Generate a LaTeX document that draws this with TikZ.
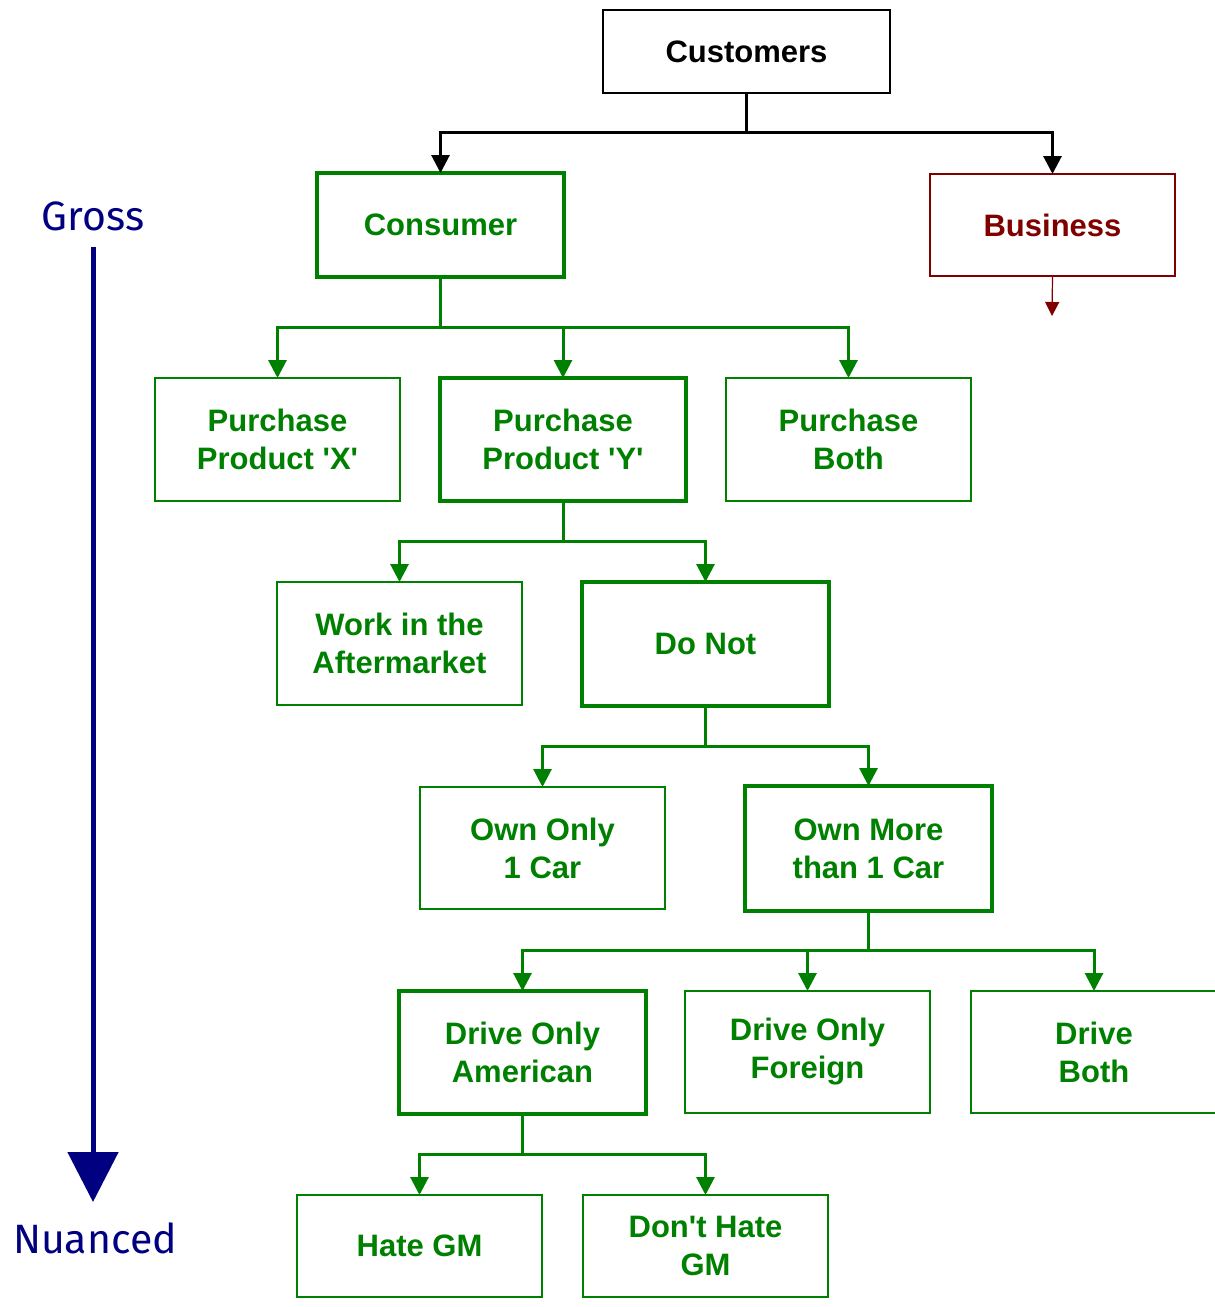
\documentclass[tikz,border=0pt]{standalone}
\usepackage{fontspec}
\setmainfont{Liberation Sans}
\newfontfamily\handfont{Fira Sans}
\usetikzlibrary{arrows.meta}
\definecolor{gr}{RGB}{0,128,0}
\definecolor{dred}{RGB}{128,0,0}
\definecolor{nav}{RGB}{0,0,128}
\newcommand{\sq}{\textquotesingle}
\tikzset{
  box/.style={rectangle, inner sep=0pt, outer sep=0pt, align=center,
    font=\fontsize{31}{38}\selectfont\bfseries, text=gr},
  thinbox/.style={box, draw=gr, line width=1.2pt},
  thickbox/.style={box, draw=gr, line width=4pt},
  gline/.style={draw=gr, line width=3pt, -{Triangle[width=18pt,length=18pt]}},
  kline/.style={draw=black, line width=3pt, -{Triangle[width=18pt,length=18pt]}},
  hand/.style={font=\handfont\fontsize{41}{44}\selectfont, text=nav},
}
\begin{document}
\begin{tikzpicture}[x=1pt,y=-1pt]
\useasboundingbox (0,0) rectangle (1215,1307);
\node[box, draw=black, line width=2.2pt, text=black, minimum width=287pt, minimum height=83pt] (cust) at (746.5,51.5) {Customers};
\node[thickbox, minimum width=247pt, minimum height=104pt] (cons) at (440.5,225) {Consumer};
\node[box, draw=dred, line width=1.2pt, text=dred, minimum width=245pt, minimum height=102pt] (bus) at (1052.5,225) {Business};
\coordinate (busend) at (1052,316);
\node[thinbox, minimum width=245pt, minimum height=123pt] (px) at (277.5,439.5) {Purchase\\Product \sq X\sq};
\node[thickbox, minimum width=246pt, minimum height=123pt] (py) at (563,439.5) {Purchase\\Product \sq Y\sq};
\node[thinbox, minimum width=245pt, minimum height=123pt] (pb) at (848.5,439.5) {Purchase\\Both};
\node[thinbox, minimum width=245pt, minimum height=123pt] (work) at (399.5,643.5) {Work in the\\Aftermarket};
\node[thickbox, minimum width=247pt, minimum height=124pt] (dn) at (705.5,644) {Do Not};
\node[thinbox, minimum width=245pt, minimum height=122pt] (own1) at (542.5,848) {Own Only\\1 Car};
\node[thickbox, minimum width=247pt, minimum height=125pt] (ownm) at (868.5,848.5) {Own More\\than 1 Car};
\node[thickbox, minimum width=247pt, minimum height=123pt] (amer) at (522.5,1052.5) {Drive Only\\American};
\node[thinbox, minimum width=245pt, minimum height=122pt] (forg) at (807.5,1052) {Drive Only\\Foreign};
\node[thinbox, minimum width=246pt, minimum height=122pt] (both) at (1094,1052) {Drive\\Both};
\node[thinbox, minimum width=245pt, minimum height=102pt] (hate) at (419.5,1246) {Hate GM};
\node[thinbox, minimum width=245pt, minimum height=102pt] (dhate) at (705.5,1246) {Don\sq t Hate\\GM};
% connectors
\draw[kline] (cust.south) -- ++(0,39) -| (cons.north);
\draw[kline] (cust.south) -- ++(0,39) -| (bus.north);
\draw[draw=dred, line width=1.2pt, -{Triangle[width=14pt,length=14pt]}] (bus.south) -- (busend);
\draw[gline] (cons.south) -- ++(0,50) -| (px.north);
\draw[gline] (cons.south) -- ++(0,50) -| (py.north);
\draw[gline] (cons.south) -- ++(0,50) -| (pb.north);
\draw[gline] (py.south) -- ++(0,40) -| (work.north);
\draw[gline] (py.south) -- ++(0,40) -| (dn.north);
\draw[gline] (dn.south) -- ++(0,40) -| (own1.north);
\draw[gline] (dn.south) -- ++(0,40) -| (ownm.north);
\draw[gline] (ownm.south) -- ++(0,39) -| (amer.north);
\draw[gline] (ownm.south) -- ++(0,39) -| (forg.north);
\draw[gline] (ownm.south) -- ++(0,39) -| (both.north);
\draw[gline] (amer.south) -- ++(0,40) -| (hate.north);
\draw[gline] (amer.south) -- ++(0,40) -| (dhate.north);
% gross / nuanced scale
\node[hand] (gross) at (93,216) {Gross};
\node[hand] (nuan) at (95,1238) {Nuanced};
\coordinate (scaletop) at (93,247);
\coordinate (scalebot) at (93,1202);
\draw[draw=nav, line width=5pt, -{Triangle[width=50pt,length=50pt]}] (scaletop) -- (scalebot);
\end{tikzpicture}
\end{document}
